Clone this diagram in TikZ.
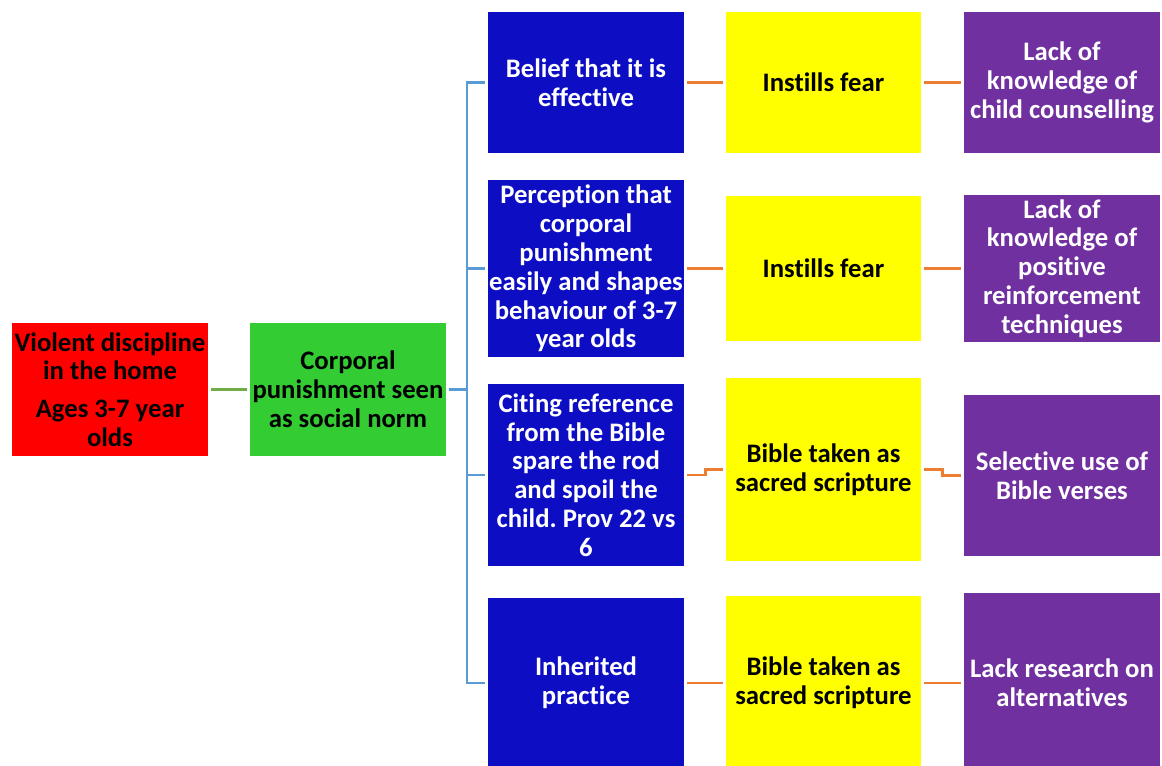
\documentclass[tikz,border=0pt]{standalone}
\usepackage{fontspec}
\setmainfont{Carlito}[Ligatures=NoCommon]
\usetikzlibrary{calc}
\frenchspacing

\definecolor{redbox}{HTML}{FF0000}
\definecolor{greenbox}{HTML}{33CC33}
\definecolor{bluebox}{HTML}{0D0DC3}
\definecolor{yellowbox}{HTML}{FFFF00}
\definecolor{purplebox}{HTML}{7030A0}
\definecolor{glink}{HTML}{70AD47}
\definecolor{blink}{HTML}{5B9BD5}
\definecolor{olink}{HTML}{ED7D31}

\begin{document}
\begin{tikzpicture}[x=0.02cm, y=-0.02cm,
    box/.style={inner sep=0pt, align=center, font=\fontsize{15.2}{16.4}\selectfont\bfseries},
    rbox/.style={box, fill=redbox, minimum width=3.92cm, minimum height=2.66cm},
    gbox/.style={box, fill=greenbox, minimum width=3.92cm, minimum height=2.66cm},
    bbox/.style={box, fill=bluebox, text=white, minimum width=3.92cm},
    ybox/.style={box, fill=yellowbox, minimum width=3.9cm},
    pbox/.style={box, fill=purplebox, text=white, minimum width=3.92cm},
    link/.style={line width=1.4pt, shorten >=1.7pt, shorten <=1.7pt}]
    \fill[white] (0, 0) rectangle (1162, 765);
    \useasboundingbox (0, 0) rectangle (1162, 765);

    \node[rbox] (viol) at (110, 389.5) {Violent discipline\\in the home\\[5pt]Ages 3-7 year\\olds};
    \node[gbox] (norm) at (348, 389.5) {Corporal\\punishment seen\\as social norm};

    \node[bbox, minimum height=2.82cm] (b1) at (586, 82.5) {Belief that it is\\effective};
    \node[bbox, minimum height=3.54cm] (b2) at (586, 268.5) {Perception that\\corporal\\punishment\\easily and shapes\\behaviour of 3-7\\year olds};
    \node[bbox, minimum height=3.64cm] (b3) at (586, 475) {Citing reference\\from the Bible\\spare the rod\\and spoil the\\child. Prov 22 vs\\6};
    \node[bbox, minimum height=3.4cm] (b4) at (586, 683) {Inherited\\practice};

    \node[ybox, minimum height=2.82cm] (y1) at (823.5, 82.5) {Instills fear};
    \node[ybox, minimum height=2.9cm] (y2) at (823.5, 268.5) {Instills fear};
    \node[ybox, minimum height=3.66cm] (y3) at (823.5, 469.5) {Bible taken as\\sacred scripture};
    \node[ybox, minimum height=3.48cm] (y4) at (823.5, 683) {Bible taken as\\sacred scripture};

    \node[pbox, minimum height=2.82cm] (p1) at (1062, 82.5) {Lack of\\knowledge of\\child counselling};
    \node[pbox, minimum height=2.94cm] (p2) at (1062, 268.5) {Lack of\\knowledge of\\positive\\reinforcement\\techniques};
    \node[pbox, minimum height=3.22cm] (p3) at (1062, 475.5) {Selective use of\\Bible verses};
    \node[pbox, minimum height=3.6cm] (p4) at (1062, 683) {Lack research on\\alternatives};

    \draw[link, glink] (viol) -- (norm);
    \coordinate (bus) at (467, 389.5);
    \draw[link, blink, shorten >=0pt] (norm) -- (bus);
    \foreach \i in {1,...,4}
        \draw[link, blink, shorten <=0pt] (bus) |- (b\i);

    \foreach \i in {1,2,4} {
        \draw[link, olink] (b\i) -- (y\i);
        \draw[link, olink] (y\i) -- (p\i);
    }
    \draw[link, olink] (b3.east) -- ++(21, 0) |- (y3);
    \draw[link, olink] (y3.east) -- ++(21, 0) |- (p3);
\end{tikzpicture}
\end{document}
